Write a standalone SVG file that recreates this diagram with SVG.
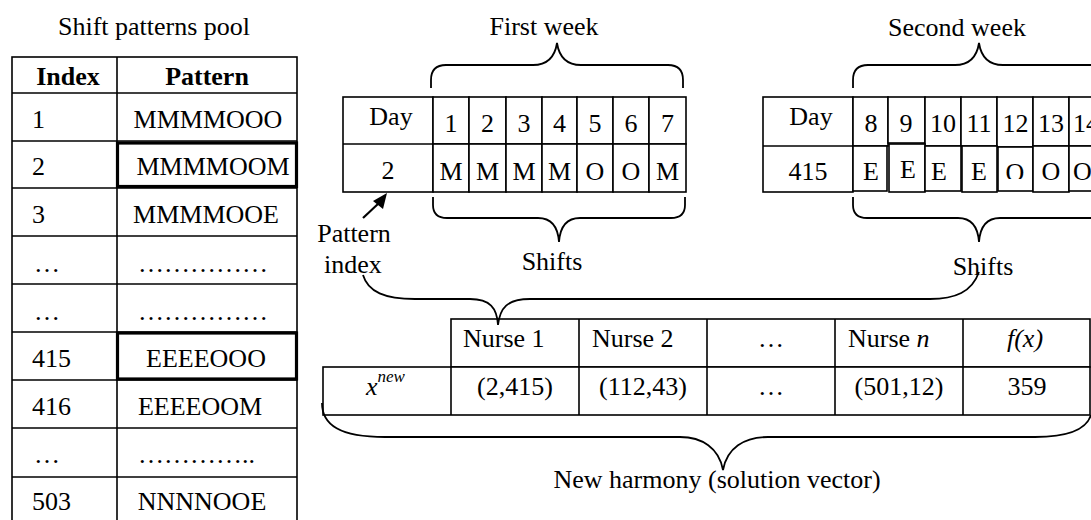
<svg xmlns="http://www.w3.org/2000/svg" width="1091" height="520" viewBox="0 0 1091 520">
<style>
text{font-family:"Liberation Serif","Times New Roman",serif;font-size:26px;fill:#000}
.b{font-weight:bold}
.i{font-style:italic}
.m{text-anchor:middle}
.c{fill:#fff;stroke:#000;stroke-width:1.6}
.l{stroke:#000;stroke-width:1.6;fill:none}
.t{fill:none;stroke:#000;stroke-width:3.2}
.br{fill:none;stroke:#000;stroke-width:1.8}
</style>
<rect width="1091" height="520" fill="#fff"/>

<text id="title-pool" class="m" x="154" y="35">Shift patterns pool</text>
<text id="title-week1" class="m" x="544" y="35">First week</text>
<text id="title-week2" class="m" x="957" y="36">Second week</text>

<g id="pool-table">
  <rect class="c" x="12" y="57" width="285" height="470"/>
  <line class="l" x1="117" y1="57" x2="117" y2="527"/>
  <line class="l" x1="12" y1="93" x2="297" y2="93"/>
  <line class="l" x1="12" y1="141" x2="297" y2="141"/>
  <line class="l" x1="12" y1="188" x2="297" y2="188"/>
  <line class="l" x1="12" y1="236" x2="297" y2="236"/>
  <line class="l" x1="12" y1="284" x2="297" y2="284"/>
  <line class="l" x1="12" y1="332" x2="297" y2="332"/>
  <line class="l" x1="12" y1="380" x2="297" y2="380"/>
  <line class="l" x1="12" y1="428" x2="297" y2="428"/>
  <line class="l" x1="12" y1="477" x2="297" y2="477"/>
  <rect class="t" x="117.5" y="143" width="179" height="43.5"/>
  <rect class="t" x="117.5" y="333" width="179" height="46"/>
  <text class="b m" x="68" y="85">Index</text>
  <text class="b m" x="207" y="85">Pattern</text>
  <text x="32" y="128">1</text><text class="m" x="208" y="128">MMMMOOO</text>
  <text x="32" y="175">2</text><text class="m" x="213" y="175">MMMMOOM</text>
  <text x="32" y="223">3</text><text class="m" x="206" y="223">MMMMOOE</text>
  <text x="34" y="272">…</text><text x="138" y="272">……………</text>
  <text x="34" y="320">…</text><text x="138" y="320">……………</text>
  <text x="32" y="367">415</text><text class="m" x="206" y="367">EEEEOOO</text>
  <text x="32" y="415">416</text><text class="m" x="200" y="415">EEEEOOM</text>
  <text x="34" y="463">…</text><text x="138" y="463">…………..</text>
  <text x="32" y="510">503</text><text class="m" x="202" y="510">NNNNOOE</text>
</g>

<g id="week1">
  <rect class="c" x="343" y="97" width="90" height="95"/>
  <line class="l" x1="343" y1="144" x2="433" y2="144"/>
  <rect class="c" x="433" y="97" width="36" height="47"/><rect class="c" x="433" y="144" width="36" height="48"/>
  <rect class="c" x="469" y="97" width="37" height="47"/><rect class="c" x="469" y="144" width="37" height="48"/>
  <rect class="c" x="506" y="97" width="36" height="47"/><rect class="c" x="506" y="144" width="36" height="48"/>
  <rect class="c" x="542" y="97" width="35" height="47"/><rect class="c" x="542" y="144" width="35" height="48"/>
  <rect class="c" x="577" y="97" width="36" height="47"/><rect class="c" x="577" y="144" width="36" height="48"/>
  <rect class="c" x="613" y="97" width="36" height="47"/><rect class="c" x="613" y="144" width="36" height="48"/>
  <rect class="c" x="649" y="97" width="37" height="47"/><rect class="c" x="649" y="144" width="37" height="48"/>
  <text class="m" x="391" y="125">Day</text>
  <text class="m" x="388" y="179">2</text>
  <text class="m" x="451" y="132">1</text><text class="m" x="487.5" y="132">2</text><text class="m" x="524" y="132">3</text><text class="m" x="559.5" y="132">4</text><text class="m" x="595" y="132">5</text><text class="m" x="631" y="132">6</text><text class="m" x="667.5" y="132">7</text>
  <text class="m" x="451" y="180">M</text><text class="m" x="487.5" y="180">M</text><text class="m" x="524" y="180">M</text><text class="m" x="559.5" y="180">M</text><text class="m" x="595" y="180">O</text><text class="m" x="631" y="180">O</text><text class="m" x="667.5" y="180">M</text>
</g>

<g id="week2">
  <rect class="c" x="763" y="97" width="90" height="95"/>
  <line class="l" x1="763" y1="146" x2="853" y2="146"/>
  <rect class="c" x="853" y="97" width="35" height="49"/>
  <rect class="c" x="888" y="97" width="37" height="46"/>
  <rect class="c" x="925" y="97" width="36" height="49"/>
  <rect class="c" x="961" y="97" width="36" height="49"/>
  <rect class="c" x="997" y="97" width="36" height="50"/>
  <rect class="c" x="1033" y="97" width="36" height="49"/>
  <rect class="c" x="1069" y="97" width="36" height="49"/>
  <rect class="c" x="853" y="146" width="34" height="45"/>
  <rect class="c" x="889" y="144" width="36" height="48"/>
  <rect class="c" x="925" y="146" width="36" height="45"/>
  <rect class="c" x="962" y="146" width="35" height="46"/>
  <rect class="c" x="998" y="147" width="35" height="44"/>
  <rect class="c" x="1033" y="146" width="36" height="46"/>
  <rect class="c" x="1069" y="146" width="36" height="45"/>
  <text class="m" x="811" y="125">Day</text>
  <text class="m" x="808" y="180">415</text>
  <text class="m" x="871" y="132">8</text><text class="m" x="906" y="132">9</text><text class="m" x="943" y="132">10</text><text class="m" x="979" y="132">11</text><text class="m" x="1015.5" y="132">12</text><text class="m" x="1051" y="132">13</text><text x="1073" y="132">14</text>
  <text class="m" x="871" y="180">E</text><text class="m" x="908" y="178">E</text><text class="m" x="939" y="180">E</text><text class="m" x="979" y="180">E</text>
  <svg x="998" y="147" width="35" height="32" overflow="hidden"><text class="m" x="17" y="34">O</text></svg>
  <text class="m" x="1051" y="180">O</text><text x="1073" y="180">O</text>
</g>

<g id="nurse-table">
  <rect class="c" x="451" y="319" width="639" height="48"/>
  <rect class="c" x="323" y="367" width="767" height="48"/>
  <line class="l" x1="451" y1="367" x2="451" y2="415"/>
  <line class="l" x1="579" y1="319" x2="579" y2="415"/>
  <line class="l" x1="707" y1="319" x2="707" y2="415"/>
  <line class="l" x1="835" y1="319" x2="835" y2="415"/>
  <line class="l" x1="963" y1="319" x2="963" y2="415"/>
  <text x="463" y="347">Nurse 1</text>
  <text x="592" y="347">Nurse 2</text>
  <text class="m" x="771" y="347">…</text>
  <text x="848" y="347">Nurse <tspan class="i">n</tspan></text>
  <text class="i m" x="1025" y="347">f(x)</text>
  <text class="i" x="366" y="395">x<tspan font-size="17" dy="-13">new</tspan></text>
  <text class="m" x="515" y="395">(2,415)</text>
  <text class="m" x="643" y="395">(112,43)</text>
  <text class="m" x="771" y="395">…</text>
  <text class="m" x="899" y="395">(501,12)</text>
  <text class="m" x="1027" y="395">359</text>
</g>

<g id="labels">
  <text class="m" x="354" y="242">Pattern</text>
  <text class="m" x="353" y="273">index</text>
  <text class="m" x="552" y="270">Shifts</text>
  <text class="m" x="983" y="275">Shifts</text>
  <text class="m" x="717" y="488">New harmony (solution vector)</text>
</g>

<g id="connectors">
  <path class="br" d="M431,88 L431,80 Q431,65 446,65 L533,65 C548,65 555,56 557,43 C559,56 566,65 581,65 L668,65 Q683,65 683,80 L683,88"/>
  <path class="br" d="M853,88 L853,80 Q853,65 868,65 L955,65 C970,65 977,56 979,43 C981,56 988,65 1003,65 L1090,65 Q1105,65 1105,80 L1105,88"/>
  <path class="br" d="M433,197 L433,205 Q433,218 447,218 L538,218 C552,218 558,228 559,242 C560,228 566,218 580,218 L671,218 Q685,218 685,205 L685,197"/>
  <path class="br" d="M853,197 L853,205 Q853,218 867,218 L958,218 C972,218 978,228 979,242 C980,228 986,218 1000,218 L1091,218 Q1105,218 1105,205 L1105,197"/>
  <path class="br" d="M363,275 C368,292 385,299 415,299 L470,299 C490,299 497,308 498,325 C500,308 507,299 530,299 L930,299 C955,299 972,292 979,272"/>
  <path class="br" d="M322,403 C322,425 340,437 385,437 L680,437 C702,437 719,448 723,470 C727,448 744,437 768,437 L1035,437 C1070,437 1087,428 1091,415"/>
  <line x1="363" y1="218" x2="379" y2="203" stroke="#000" stroke-width="2.2"/>
  <polygon points="387,193 373,201 383,209" fill="#000"/>
</g>
</svg>
